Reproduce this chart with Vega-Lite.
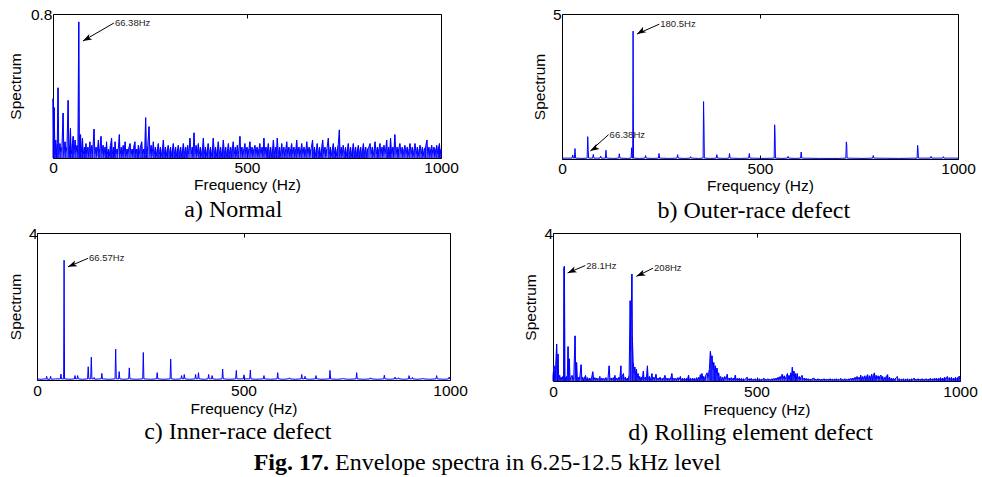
{
"$schema": "https://vega.github.io/schema/vega-lite/v6.json",
"padding": {"left": 7, "top": 6, "right": 0, "bottom": 0},
"background": "white",
"columns": 1,
"align": "none",
"spacing": 2,
"config": {
  "view": {"stroke": "#000", "strokeWidth": 1},
  "axis": {"labelFont": "Liberation Sans", "titleFont": "Liberation Sans", "labelFontSize": 15.5, "titleFontSize": 15.5, "labelColor": "#000", "titleColor": "#000", "titleFontWeight": "normal", "grid": false, "domain": false, "tickColor": "#000", "tickSize": -4, "labelFlush": false, "labelOverlap": false},
  "title": {"font": "Liberation Serif", "fontSize": 24, "fontWeight": "normal", "color": "#000", "orient": "bottom", "anchor": "middle", "frame": "bounds"},
  "line": {"color": "#0000ff", "strokeWidth": 1},
  "rule": {"color": "#0000ff", "strokeWidth": 1}
},
"datasets": {
"a": [{"f":0,"v":0.33},{"f":2,"v":0.05},{"f":3,"v":0.28},{"f":5,"v":0.02},{"f":7,"v":0.1},{"f":9,"v":0.03},{"f":11,"v":0.08},{"f":13,"v":0.39},{"f":15,"v":0.02},{"f":18,"v":0.08},{"f":20,"v":0.03},{"f":23,"v":0.06},{"f":26,"v":0.25},{"f":28,"v":0.02},{"f":31,"v":0.09},{"f":33,"v":0.03},{"f":36,"v":0.06},{"f":39,"v":0.32},{"f":41,"v":0.02},{"f":43,"v":0.07},{"f":45,"v":0.165},{"f":47,"v":0.02},{"f":50,"v":0.08},{"f":52,"v":0.12},{"f":54,"v":0.02},{"f":57,"v":0.1},{"f":59,"v":0.03},{"f":62,"v":0.07},{"f":64,"v":0.02},{"f":66.38,"v":0.756},{"f":68,"v":0.13},{"f":70,"v":0.02},{"f":71,"v":0.13},{"f":73,"v":0.03},{"f":76,"v":0.11},{"f":78,"v":0.02},{"f":81,"v":0.06},{"f":83,"v":0.02},{"f":85,"v":0.08},{"f":87,"v":0.02},{"f":90,"v":0.06},{"f":92,"v":0.01},{"f":95,"v":0.09},{"f":97,"v":0.02},{"f":100,"v":0.07},{"f":102,"v":0.02},{"f":105.7,"v":0.16},{"f":108,"v":0.02},{"f":111,"v":0.06},{"f":113,"v":0.01},{"f":117,"v":0.1},{"f":119,"v":0.03},{"f":121,"v":0.05},{"f":123.7,"v":0.12},{"f":126,"v":0.02},{"f":129,"v":0.07},{"f":131,"v":0.01},{"f":134,"v":0.06},{"f":136,"v":0.02},{"f":138,"v":0.09},{"f":140,"v":0.02},{"f":143,"v":0.05},{"f":145,"v":0.01},{"f":148,"v":0.07},{"f":151,"v":0.11},{"f":153,"v":0.02},{"f":156,"v":0.06},{"f":158,"v":0.01},{"f":160,"v":0.09},{"f":162,"v":0.02},{"f":165,"v":0.05},{"f":167,"v":0.02},{"f":171,"v":0.13},{"f":173,"v":0.02},{"f":176,"v":0.06},{"f":178,"v":0.01},{"f":181,"v":0.07},{"f":183,"v":0.02},{"f":186,"v":0.09},{"f":188,"v":0.01},{"f":191,"v":0.05},{"f":193,"v":0.02},{"f":196,"v":0.06},{"f":198.5,"v":0.08},{"f":201,"v":0.02},{"f":204,"v":0.05},{"f":206,"v":0.01},{"f":209,"v":0.07},{"f":211,"v":0.09},{"f":213,"v":0.02},{"f":216,"v":0.05},{"f":218,"v":0.01},{"f":220,"v":0.07},{"f":222,"v":0.02},{"f":225,"v":0.06},{"f":228.6,"v":0.09},{"f":231,"v":0.02},{"f":234,"v":0.05},{"f":236,"v":0.02},{"f":238.8,"v":0.224},{"f":241,"v":0.02},{"f":244,"v":0.06},{"f":247.4,"v":0.174},{"f":250,"v":0.02},{"f":253,"v":0.07},{"f":255,"v":0.01},{"f":258.6,"v":0.09},{"f":261,"v":0.02},{"f":264,"v":0.06},{"f":266,"v":0.01},{"f":269,"v":0.05},{"f":271.5,"v":0.08},{"f":274,"v":0.02},{"f":277,"v":0.06},{"f":279,"v":0.01},{"f":282,"v":0.05},{"f":284.4,"v":0.1},{"f":287,"v":0.02},{"f":290,"v":0.06},{"f":292,"v":0.01},{"f":295,"v":0.05},{"f":297,"v":0.07},{"f":300,"v":0.02},{"f":303,"v":0.06},{"f":305,"v":0.01},{"f":308,"v":0.05},{"f":310,"v":0.08},{"f":313,"v":0.02},{"f":316,"v":0.06},{"f":318,"v":0.01},{"f":321,"v":0.05},{"f":323,"v":0.07},{"f":326,"v":0.02},{"f":329,"v":0.06},{"f":331,"v":0.01},{"f":334,"v":0.05},{"f":336,"v":0.08},{"f":339,"v":0.02},{"f":342,"v":0.06},{"f":344,"v":0.01},{"f":347,"v":0.07},{"f":350,"v":0.02},{"f":353,"v":0.11},{"f":356,"v":0.02},{"f":359,"v":0.06},{"f":361,"v":0.01},{"f":363.4,"v":0.14},{"f":366,"v":0.02},{"f":369,"v":0.07},{"f":371,"v":0.01},{"f":374.6,"v":0.08},{"f":377,"v":0.02},{"f":380,"v":0.06},{"f":382,"v":0.01},{"f":385,"v":0.05},{"f":387.5,"v":0.11},{"f":390,"v":0.02},{"f":393,"v":0.06},{"f":395,"v":0.01},{"f":398,"v":0.05},{"f":400,"v":0.08},{"f":403,"v":0.02},{"f":406,"v":0.06},{"f":408,"v":0.01},{"f":411,"v":0.05},{"f":413,"v":0.11},{"f":416,"v":0.02},{"f":419,"v":0.06},{"f":421,"v":0.01},{"f":424,"v":0.05},{"f":426,"v":0.09},{"f":429,"v":0.02},{"f":432,"v":0.06},{"f":434,"v":0.01},{"f":437,"v":0.05},{"f":439,"v":0.1},{"f":442,"v":0.02},{"f":445,"v":0.06},{"f":447,"v":0.01},{"f":450,"v":0.05},{"f":452,"v":0.08},{"f":455,"v":0.02},{"f":458,"v":0.06},{"f":460,"v":0.01},{"f":462,"v":0.05},{"f":464.6,"v":0.09},{"f":467,"v":0.02},{"f":470,"v":0.06},{"f":472,"v":0.01},{"f":475,"v":0.07},{"f":478,"v":0.02},{"f":481.8,"v":0.12},{"f":484,"v":0.02},{"f":487,"v":0.06},{"f":489,"v":0.01},{"f":492,"v":0.05},{"f":494.6,"v":0.08},{"f":497,"v":0.02},{"f":500,"v":0.06},{"f":502,"v":0.01},{"f":505,"v":0.05},{"f":507.5,"v":0.09},{"f":510,"v":0.02},{"f":513,"v":0.06},{"f":515,"v":0.01},{"f":518,"v":0.05},{"f":520.5,"v":0.07},{"f":523,"v":0.02},{"f":526,"v":0.06},{"f":528,"v":0.01},{"f":531,"v":0.05},{"f":533,"v":0.08},{"f":536,"v":0.02},{"f":539,"v":0.06},{"f":541,"v":0.01},{"f":543.6,"v":0.11},{"f":546,"v":0.02},{"f":549,"v":0.06},{"f":551,"v":0.01},{"f":553,"v":0.05},{"f":555,"v":0.08},{"f":558,"v":0.02},{"f":561,"v":0.06},{"f":563,"v":0.01},{"f":566,"v":0.05},{"f":568,"v":0.1},{"f":571,"v":0.02},{"f":574,"v":0.06},{"f":576,"v":0.02},{"f":578,"v":0.11},{"f":581,"v":0.02},{"f":584,"v":0.06},{"f":586,"v":0.01},{"f":589.5,"v":0.08},{"f":592,"v":0.02},{"f":595,"v":0.06},{"f":597,"v":0.01},{"f":600,"v":0.05},{"f":602.4,"v":0.09},{"f":605,"v":0.02},{"f":608,"v":0.06},{"f":610,"v":0.01},{"f":613,"v":0.05},{"f":615,"v":0.08},{"f":618,"v":0.02},{"f":621,"v":0.06},{"f":623,"v":0.01},{"f":626,"v":0.05},{"f":628,"v":0.1},{"f":631,"v":0.02},{"f":634,"v":0.06},{"f":636,"v":0.01},{"f":639,"v":0.05},{"f":641,"v":0.08},{"f":644,"v":0.02},{"f":647,"v":0.06},{"f":649,"v":0.01},{"f":652,"v":0.05},{"f":654,"v":0.09},{"f":657,"v":0.02},{"f":660,"v":0.06},{"f":662,"v":0.01},{"f":665,"v":0.05},{"f":669,"v":0.1},{"f":671,"v":0.02},{"f":674,"v":0.06},{"f":676,"v":0.01},{"f":679,"v":0.05},{"f":681,"v":0.08},{"f":684,"v":0.02},{"f":687,"v":0.06},{"f":689,"v":0.01},{"f":692,"v":0.05},{"f":695,"v":0.1},{"f":698,"v":0.02},{"f":701,"v":0.06},{"f":703,"v":0.01},{"f":706,"v":0.05},{"f":709.6,"v":0.11},{"f":712,"v":0.02},{"f":715,"v":0.06},{"f":717,"v":0.01},{"f":720,"v":0.05},{"f":722.5,"v":0.08},{"f":725,"v":0.02},{"f":728,"v":0.06},{"f":730,"v":0.01},{"f":733,"v":0.05},{"f":735,"v":0.07},{"f":738,"v":0.156},{"f":740,"v":0.02},{"f":743,"v":0.06},{"f":745,"v":0.01},{"f":748,"v":0.07},{"f":751,"v":0.02},{"f":754,"v":0.06},{"f":756,"v":0.01},{"f":759,"v":0.05},{"f":761,"v":0.08},{"f":764,"v":0.02},{"f":767,"v":0.06},{"f":769,"v":0.01},{"f":772,"v":0.05},{"f":774,"v":0.08},{"f":777,"v":0.02},{"f":780,"v":0.06},{"f":782,"v":0.01},{"f":785,"v":0.05},{"f":787,"v":0.07},{"f":790,"v":0.02},{"f":793,"v":0.06},{"f":795,"v":0.01},{"f":798,"v":0.05},{"f":800,"v":0.08},{"f":803,"v":0.02},{"f":806,"v":0.06},{"f":808,"v":0.01},{"f":811,"v":0.05},{"f":814,"v":0.06},{"f":817,"v":0.08},{"f":820,"v":0.02},{"f":823,"v":0.06},{"f":825,"v":0.01},{"f":828,"v":0.05},{"f":830,"v":0.09},{"f":833,"v":0.02},{"f":836,"v":0.06},{"f":838,"v":0.01},{"f":840,"v":0.05},{"f":842.6,"v":0.08},{"f":845,"v":0.02},{"f":848,"v":0.06},{"f":850,"v":0.01},{"f":853,"v":0.07},{"f":856,"v":0.02},{"f":860,"v":0.1},{"f":862,"v":0.02},{"f":865,"v":0.06},{"f":867,"v":0.01},{"f":870,"v":0.11},{"f":873,"v":0.02},{"f":876,"v":0.06},{"f":878,"v":0.01},{"f":881,"v":0.13},{"f":884,"v":0.02},{"f":887,"v":0.06},{"f":889,"v":0.01},{"f":891,"v":0.05},{"f":894,"v":0.08},{"f":897,"v":0.02},{"f":900,"v":0.06},{"f":902,"v":0.01},{"f":905,"v":0.05},{"f":907,"v":0.07},{"f":910,"v":0.02},{"f":913,"v":0.06},{"f":915,"v":0.01},{"f":918,"v":0.05},{"f":920,"v":0.08},{"f":923,"v":0.02},{"f":926,"v":0.06},{"f":928,"v":0.01},{"f":931,"v":0.05},{"f":933,"v":0.08},{"f":936,"v":0.02},{"f":939,"v":0.06},{"f":941,"v":0.01},{"f":944,"v":0.05},{"f":946,"v":0.07},{"f":949,"v":0.02},{"f":952,"v":0.06},{"f":954,"v":0.01},{"f":957,"v":0.05},{"f":960,"v":0.06},{"f":963.6,"v":0.1},{"f":966,"v":0.02},{"f":969,"v":0.06},{"f":971,"v":0.01},{"f":974,"v":0.05},{"f":976,"v":0.07},{"f":979,"v":0.02},{"f":982,"v":0.06},{"f":984,"v":0.01},{"f":987,"v":0.05},{"f":989,"v":0.07},{"f":992,"v":0.02},{"f":994,"v":0.06},{"f":996,"v":0.08},{"f":998,"v":0.02},{"f":1000,"v":0.05}],
"b": [{"f":0,"v":0.03},{"f":15,"v":0.03},{"f":25.5,"v":0.03},{"f":27,"v":0.14},{"f":28.5,"v":0.03},{"f":31.3,"v":0.03},{"f":32.8,"v":0.36},{"f":34.3,"v":0.03},{"f":50,"v":0.02},{"f":63.5,"v":0.03},{"f":65,"v":0.77},{"f":66.2,"v":0.3},{"f":67.3,"v":0.03},{"f":77.5,"v":0.03},{"f":79,"v":0.16},{"f":80.5,"v":0.03},{"f":96,"v":0.03},{"f":97.6,"v":0.1},{"f":99,"v":0.03},{"f":109.5,"v":0.03},{"f":111,"v":0.3},{"f":112.5,"v":0.03},{"f":130,"v":0.02},{"f":143.3,"v":0.03},{"f":144.8,"v":0.18},{"f":146.3,"v":0.03},{"f":165,"v":0.02},{"f":174.5,"v":0.03},{"f":176,"v":0.39},{"f":177.3,"v":0.03},{"f":178.5,"v":0.03},{"f":179.5,"v":4.41},{"f":180.7,"v":0.03},{"f":195,"v":0.02},{"f":209.5,"v":0.03},{"f":211,"v":0.12},{"f":212.5,"v":0.03},{"f":230,"v":0.02},{"f":243.5,"v":0.03},{"f":245,"v":0.19},{"f":246.5,"v":0.03},{"f":270,"v":0.02},{"f":290.5,"v":0.03},{"f":292,"v":0.15},{"f":293.5,"v":0.03},{"f":310,"v":0.02},{"f":323.5,"v":0.03},{"f":325,"v":0.08},{"f":326.5,"v":0.03},{"f":345,"v":0.02},{"f":356.3,"v":0.03},{"f":357.5,"v":1.98},{"f":358.5,"v":1.2},{"f":359.5,"v":0.03},{"f":375,"v":0.02},{"f":389.5,"v":0.03},{"f":391,"v":0.15},{"f":392.5,"v":0.03},{"f":410,"v":0.02},{"f":421.5,"v":0.03},{"f":423,"v":0.19},{"f":424.5,"v":0.03},{"f":450,"v":0.02},{"f":471.5,"v":0.03},{"f":473,"v":0.19},{"f":474.5,"v":0.03},{"f":510,"v":0.02},{"f":535.8,"v":0.03},{"f":537,"v":1.18},{"f":538,"v":0.85},{"f":539,"v":0.03},{"f":555,"v":0.02},{"f":569.5,"v":0.03},{"f":571,"v":0.09},{"f":572.5,"v":0.03},{"f":590,"v":0.02},{"f":602.5,"v":0.03},{"f":604,"v":0.24},{"f":605.5,"v":0.03},{"f":650,"v":0.02},{"f":700,"v":0.02},{"f":716.8,"v":0.03},{"f":718,"v":0.59},{"f":719,"v":0.5},{"f":720,"v":0.03},{"f":760,"v":0.02},{"f":784.5,"v":0.03},{"f":786,"v":0.12},{"f":787.5,"v":0.03},{"f":850,"v":0.02},{"f":896.8,"v":0.03},{"f":898,"v":0.47},{"f":899,"v":0.35},{"f":900,"v":0.03},{"f":930.5,"v":0.03},{"f":932,"v":0.09},{"f":933.5,"v":0.03},{"f":961.5,"v":0.03},{"f":963,"v":0.08},{"f":964.5,"v":0.03},{"f":1000,"v":0.03}],
"c": [{"f":0,"v":0.03},{"f":10,"v":0.02},{"f":20,"v":0.03},{"f":22,"v":0.02},{"f":23.4,"v":0.1},{"f":25,"v":0.02},{"f":31.5,"v":0.02},{"f":33,"v":0.1},{"f":34.5,"v":0.02},{"f":45,"v":0.03},{"f":56.5,"v":0.03},{"f":58,"v":0.16},{"f":59.5,"v":0.03},{"f":64.5,"v":0.03},{"f":65.6,"v":3.26},{"f":66.7,"v":0.03},{"f":80,"v":0.02},{"f":90.5,"v":0.03},{"f":92,"v":0.12},{"f":93.5,"v":0.03},{"f":97,"v":0.03},{"f":98.5,"v":0.12},{"f":100,"v":0.03},{"f":110,"v":0.02},{"f":122.5,"v":0.03},{"f":124,"v":0.36},{"f":125.5,"v":0.03},{"f":130,"v":0.03},{"f":131.5,"v":0.62},{"f":133,"v":0.03},{"f":137,"v":0.03},{"f":138.5,"v":0.07},{"f":140,"v":0.02},{"f":150,"v":0.03},{"f":155.5,"v":0.03},{"f":157,"v":0.18},{"f":158.5,"v":0.03},{"f":175,"v":0.02},{"f":189,"v":0.03},{"f":190.5,"v":0.84},{"f":192,"v":0.03},{"f":197.5,"v":0.03},{"f":199,"v":0.23},{"f":200.5,"v":0.03},{"f":210,"v":0.02},{"f":222,"v":0.03},{"f":223.5,"v":0.33},{"f":225,"v":0.03},{"f":240,"v":0.02},{"f":256,"v":0.03},{"f":257.4,"v":0.75},{"f":258.8,"v":0.03},{"f":275,"v":0.02},{"f":289.5,"v":0.03},{"f":291,"v":0.2},{"f":292.5,"v":0.03},{"f":305,"v":0.02},{"f":322.2,"v":0.03},{"f":323.7,"v":0.57},{"f":325.2,"v":0.03},{"f":335,"v":0.02},{"f":348.5,"v":0.03},{"f":350,"v":0.12},{"f":351.5,"v":0.03},{"f":355,"v":0.03},{"f":356.5,"v":0.15},{"f":358,"v":0.03},{"f":370,"v":0.02},{"f":382.5,"v":0.03},{"f":384,"v":0.15},{"f":385.5,"v":0.03},{"f":389.5,"v":0.03},{"f":391,"v":0.2},{"f":392.5,"v":0.03},{"f":405,"v":0.02},{"f":414,"v":0.03},{"f":415.6,"v":0.15},{"f":417,"v":0.03},{"f":422.5,"v":0.03},{"f":424,"v":0.12},{"f":425.5,"v":0.03},{"f":435,"v":0.02},{"f":448,"v":0.03},{"f":449.5,"v":0.3},{"f":451,"v":0.03},{"f":465,"v":0.02},{"f":481,"v":0.03},{"f":482.6,"v":0.26},{"f":484,"v":0.03},{"f":499.5,"v":0.03},{"f":501,"v":0.14},{"f":502.5,"v":0.03},{"f":515,"v":0.03},{"f":516.5,"v":0.27},{"f":518,"v":0.03},{"f":530,"v":0.02},{"f":548,"v":0.03},{"f":549.6,"v":0.12},{"f":551,"v":0.03},{"f":565,"v":0.02},{"f":581.3,"v":0.03},{"f":582.8,"v":0.2},{"f":584.3,"v":0.03},{"f":595,"v":0.02},{"f":609.5,"v":0.03},{"f":611,"v":0.06},{"f":612.5,"v":0.03},{"f":625,"v":0.02},{"f":639.5,"v":0.03},{"f":641,"v":0.15},{"f":642.5,"v":0.03},{"f":647.5,"v":0.03},{"f":649,"v":0.1},{"f":650.5,"v":0.03},{"f":660,"v":0.02},{"f":674,"v":0.03},{"f":675.5,"v":0.12},{"f":677,"v":0.03},{"f":690,"v":0.02},{"f":708,"v":0.03},{"f":709.4,"v":0.26},{"f":711,"v":0.03},{"f":725,"v":0.02},{"f":739.5,"v":0.03},{"f":741,"v":0.05},{"f":742.5,"v":0.03},{"f":755,"v":0.02},{"f":772.5,"v":0.03},{"f":774,"v":0.2},{"f":775.5,"v":0.03},{"f":790,"v":0.02},{"f":806.5,"v":0.03},{"f":808,"v":0.06},{"f":809.5,"v":0.03},{"f":825,"v":0.02},{"f":839.5,"v":0.03},{"f":841,"v":0.13},{"f":842.5,"v":0.03},{"f":855,"v":0.02},{"f":865.5,"v":0.03},{"f":867,"v":0.08},{"f":868.5,"v":0.03},{"f":873.5,"v":0.03},{"f":875,"v":0.06},{"f":876.5,"v":0.03},{"f":890,"v":0.02},{"f":899.5,"v":0.03},{"f":901,"v":0.12},{"f":902.5,"v":0.03},{"f":907.5,"v":0.03},{"f":909,"v":0.07},{"f":910.5,"v":0.03},{"f":920,"v":0.02},{"f":932.5,"v":0.03},{"f":934,"v":0.05},{"f":935.5,"v":0.03},{"f":950,"v":0.02},{"f":966,"v":0.03},{"f":967.7,"v":0.12},{"f":969,"v":0.03},{"f":985,"v":0.02},{"f":996.5,"v":0.03},{"f":998,"v":0.08},{"f":999.5,"v":0.03},{"f":1000,"v":0.03}],
"d": [{"f":0,"v":0.15},{"f":2.5,"v":0.41},{"f":4,"v":0.05},{"f":6,"v":0.3},{"f":9,"v":1.0},{"f":11,"v":0.2},{"f":12.3,"v":0.73},{"f":14,"v":0.08},{"f":16.4,"v":0.15},{"f":18,"v":0.03},{"f":20,"v":0.1},{"f":22,"v":0.04},{"f":24,"v":0.12},{"f":26,"v":0.1},{"f":27,"v":3.07},{"f":28,"v":3.1},{"f":29.5,"v":0.1},{"f":31,"v":0.05},{"f":33,"v":0.12},{"f":35,"v":0.04},{"f":37,"v":0.93},{"f":38.5,"v":0.1},{"f":40,"v":0.6},{"f":42,"v":0.04},{"f":44,"v":0.1},{"f":47,"v":0.15},{"f":49,"v":0.03},{"f":51,"v":0.1},{"f":54.2,"v":1.22},{"f":56,"v":0.06},{"f":58,"v":0.5},{"f":60,"v":0.04},{"f":62,"v":0.1},{"f":64,"v":0.03},{"f":66,"v":0.12},{"f":69,"v":0.44},{"f":71,"v":0.04},{"f":73,"v":0.1},{"f":75,"v":0.03},{"f":77,"v":0.08},{"f":80,"v":0.15},{"f":82,"v":0.03},{"f":85,"v":0.09},{"f":87,"v":0.02},{"f":90,"v":0.08},{"f":92,"v":0.03},{"f":95,"v":0.1},{"f":97.7,"v":0.25},{"f":100,"v":0.03},{"f":103,"v":0.09},{"f":105,"v":0.02},{"f":108,"v":0.08},{"f":110,"v":0.03},{"f":113,"v":0.06},{"f":115,"v":0.12},{"f":117,"v":0.02},{"f":120,"v":0.08},{"f":122,"v":0.03},{"f":125,"v":0.07},{"f":127,"v":0.02},{"f":130,"v":0.09},{"f":132,"v":0.03},{"f":135,"v":0.07},{"f":138,"v":0.41},{"f":140,"v":0.03},{"f":143,"v":0.08},{"f":145,"v":0.02},{"f":148,"v":0.09},{"f":150,"v":0.03},{"f":152,"v":0.15},{"f":154,"v":0.03},{"f":157,"v":0.08},{"f":159,"v":0.02},{"f":162,"v":0.1},{"f":164,"v":0.03},{"f":166.7,"v":0.41},{"f":168,"v":0.05},{"f":170,"v":0.12},{"f":173,"v":0.2},{"f":175,"v":0.04},{"f":178,"v":0.1},{"f":180,"v":0.03},{"f":183,"v":0.08},{"f":185,"v":0.03},{"f":187,"v":0.15},{"f":189.7,"v":2.17},{"f":191,"v":0.8},{"f":193.8,"v":2.89},{"f":195,"v":1.2},{"f":197,"v":0.5},{"f":199,"v":0.2},{"f":201,"v":0.38},{"f":203,"v":0.15},{"f":205,"v":0.32},{"f":207,"v":0.1},{"f":209,"v":0.2},{"f":211,"v":0.05},{"f":213,"v":0.12},{"f":215,"v":0.04},{"f":217,"v":0.1},{"f":219,"v":0.03},{"f":222,"v":0.27},{"f":224,"v":0.04},{"f":227,"v":0.1},{"f":229,"v":0.03},{"f":232,"v":0.41},{"f":234,"v":0.04},{"f":237,"v":0.12},{"f":239,"v":0.03},{"f":241,"v":0.08},{"f":243,"v":0.2},{"f":245,"v":0.03},{"f":248,"v":0.1},{"f":250,"v":0.03},{"f":253,"v":0.18},{"f":255,"v":0.03},{"f":258,"v":0.08},{"f":260,"v":0.02},{"f":263,"v":0.1},{"f":265,"v":0.03},{"f":268,"v":0.07},{"f":270,"v":0.02},{"f":273,"v":0.09},{"f":275,"v":0.15},{"f":277,"v":0.03},{"f":280,"v":0.08},{"f":282,"v":0.02},{"f":285,"v":0.07},{"f":287,"v":0.03},{"f":290,"v":0.1},{"f":292,"v":0.2},{"f":294,"v":0.03},{"f":297,"v":0.08},{"f":299,"v":0.02},{"f":302,"v":0.07},{"f":304,"v":0.03},{"f":307,"v":0.09},{"f":309,"v":0.02},{"f":313,"v":0.12},{"f":315,"v":0.03},{"f":318,"v":0.07},{"f":320,"v":0.02},{"f":323,"v":0.08},{"f":325,"v":0.03},{"f":328,"v":0.07},{"f":330,"v":0.02},{"f":333,"v":0.16},{"f":335,"v":0.03},{"f":338,"v":0.07},{"f":340,"v":0.02},{"f":343,"v":0.08},{"f":345,"v":0.03},{"f":348,"v":0.07},{"f":350,"v":0.02},{"f":353,"v":0.09},{"f":355,"v":0.03},{"f":358,"v":0.1},{"f":360,"v":0.04},{"f":362,"v":0.17},{"f":364,"v":0.05},{"f":366,"v":0.2},{"f":368,"v":0.05},{"f":370,"v":0.12},{"f":372,"v":0.05},{"f":375,"v":0.15},{"f":378.5,"v":0.22},{"f":381,"v":0.08},{"f":384,"v":0.3},{"f":386.7,"v":0.8},{"f":389,"v":0.6},{"f":390.8,"v":0.68},{"f":393,"v":0.3},{"f":395,"v":0.5},{"f":397,"v":0.25},{"f":399,"v":0.41},{"f":401,"v":0.2},{"f":403,"v":0.35},{"f":405,"v":0.12},{"f":407,"v":0.22},{"f":409,"v":0.06},{"f":412,"v":0.12},{"f":414,"v":0.04},{"f":417,"v":0.1},{"f":419,"v":0.03},{"f":422,"v":0.12},{"f":425,"v":0.04},{"f":428,"v":0.18},{"f":430,"v":0.03},{"f":433,"v":0.08},{"f":435,"v":0.02},{"f":438,"v":0.09},{"f":440,"v":0.03},{"f":443,"v":0.08},{"f":445,"v":0.02},{"f":448,"v":0.16},{"f":450,"v":0.03},{"f":453,"v":0.07},{"f":455,"v":0.02},{"f":458,"v":0.08},{"f":460,"v":0.02},{"f":463,"v":0.07},{"f":465,"v":0.03},{"f":468,"v":0.06},{"f":470,"v":0.02},{"f":474,"v":0.07},{"f":477,"v":0.1},{"f":479,"v":0.02},{"f":482,"v":0.06},{"f":484,"v":0.02},{"f":487,"v":0.07},{"f":489,"v":0.02},{"f":492,"v":0.05},{"f":494,"v":0.02},{"f":497,"v":0.06},{"f":499,"v":0.02},{"f":502,"v":0.05},{"f":504,"v":0.02},{"f":507,"v":0.06},{"f":509,"v":0.02},{"f":512,"v":0.05},{"f":514,"v":0.02},{"f":518,"v":0.08},{"f":520,"v":0.02},{"f":523,"v":0.05},{"f":525,"v":0.02},{"f":528,"v":0.06},{"f":530,"v":0.02},{"f":533,"v":0.05},{"f":535,"v":0.02},{"f":538,"v":0.06},{"f":540,"v":0.03},{"f":543,"v":0.07},{"f":545,"v":0.02},{"f":548,"v":0.08},{"f":550,"v":0.03},{"f":553,"v":0.1},{"f":555,"v":0.03},{"f":558,"v":0.12},{"f":560,"v":0.04},{"f":563,"v":0.18},{"f":565,"v":0.05},{"f":568,"v":0.14},{"f":570,"v":0.04},{"f":573,"v":0.12},{"f":576,"v":0.2},{"f":578,"v":0.06},{"f":580,"v":0.15},{"f":582,"v":0.05},{"f":584,"v":0.22},{"f":586,"v":0.1},{"f":588,"v":0.37},{"f":590,"v":0.12},{"f":592,"v":0.27},{"f":594,"v":0.08},{"f":596,"v":0.2},{"f":598,"v":0.05},{"f":600,"v":0.2},{"f":602,"v":0.04},{"f":605,"v":0.12},{"f":607,"v":0.03},{"f":609,"v":0.1},{"f":612,"v":0.15},{"f":614,"v":0.03},{"f":617,"v":0.08},{"f":619,"v":0.02},{"f":622,"v":0.07},{"f":624,"v":0.02},{"f":627,"v":0.06},{"f":629,"v":0.02},{"f":632,"v":0.05},{"f":634,"v":0.02},{"f":637,"v":0.06},{"f":641,"v":0.08},{"f":643,"v":0.02},{"f":646,"v":0.05},{"f":648,"v":0.02},{"f":651,"v":0.06},{"f":653,"v":0.02},{"f":656,"v":0.05},{"f":658,"v":0.02},{"f":661,"v":0.05},{"f":663,"v":0.02},{"f":666,"v":0.06},{"f":668,"v":0.02},{"f":671,"v":0.05},{"f":673,"v":0.02},{"f":676,"v":0.05},{"f":678,"v":0.02},{"f":681,"v":0.06},{"f":683,"v":0.02},{"f":686,"v":0.05},{"f":688,"v":0.02},{"f":691,"v":0.05},{"f":693,"v":0.02},{"f":696,"v":0.06},{"f":698,"v":0.02},{"f":701,"v":0.05},{"f":703,"v":0.02},{"f":707,"v":0.07},{"f":709,"v":0.02},{"f":712,"v":0.05},{"f":714,"v":0.02},{"f":717,"v":0.06},{"f":719,"v":0.02},{"f":722,"v":0.05},{"f":724,"v":0.02},{"f":727,"v":0.06},{"f":729,"v":0.03},{"f":732,"v":0.07},{"f":734,"v":0.02},{"f":737,"v":0.08},{"f":739,"v":0.03},{"f":742,"v":0.1},{"f":744,"v":0.03},{"f":747,"v":0.12},{"f":749,"v":0.04},{"f":752,"v":0.1},{"f":754,"v":0.04},{"f":756,"v":0.16},{"f":758,"v":0.05},{"f":761,"v":0.12},{"f":763,"v":0.05},{"f":766,"v":0.14},{"f":768,"v":0.05},{"f":770,"v":0.12},{"f":773,"v":0.17},{"f":775,"v":0.05},{"f":778,"v":0.14},{"f":780,"v":0.06},{"f":783,"v":0.18},{"f":785,"v":0.06},{"f":787,"v":0.15},{"f":789.6,"v":0.22},{"f":792,"v":0.06},{"f":794,"v":0.15},{"f":796,"v":0.05},{"f":799,"v":0.14},{"f":801,"v":0.05},{"f":803,"v":0.12},{"f":805.7,"v":0.16},{"f":808,"v":0.04},{"f":810,"v":0.12},{"f":812,"v":0.04},{"f":815,"v":0.1},{"f":817,"v":0.04},{"f":819,"v":0.13},{"f":822,"v":0.17},{"f":824,"v":0.04},{"f":827,"v":0.1},{"f":829,"v":0.03},{"f":832,"v":0.08},{"f":834,"v":0.03},{"f":837,"v":0.07},{"f":839,"v":0.02},{"f":842,"v":0.08},{"f":846,"v":0.12},{"f":848,"v":0.02},{"f":851,"v":0.06},{"f":853,"v":0.02},{"f":856,"v":0.05},{"f":858,"v":0.02},{"f":861,"v":0.06},{"f":863,"v":0.02},{"f":866,"v":0.05},{"f":868,"v":0.02},{"f":871,"v":0.06},{"f":873,"v":0.02},{"f":876,"v":0.05},{"f":878,"v":0.02},{"f":881,"v":0.06},{"f":883,"v":0.02},{"f":887,"v":0.08},{"f":889,"v":0.02},{"f":892,"v":0.05},{"f":894,"v":0.02},{"f":897,"v":0.06},{"f":899,"v":0.02},{"f":902,"v":0.05},{"f":904,"v":0.02},{"f":907,"v":0.06},{"f":909,"v":0.02},{"f":912,"v":0.05},{"f":914,"v":0.02},{"f":917,"v":0.06},{"f":919,"v":0.02},{"f":922,"v":0.05},{"f":924,"v":0.02},{"f":927,"v":0.07},{"f":929,"v":0.02},{"f":932,"v":0.06},{"f":934,"v":0.03},{"f":937,"v":0.07},{"f":939,"v":0.03},{"f":942,"v":0.08},{"f":944,"v":0.03},{"f":947,"v":0.07},{"f":949,"v":0.03},{"f":952,"v":0.09},{"f":954,"v":0.03},{"f":957,"v":0.08},{"f":959,"v":0.03},{"f":962,"v":0.1},{"f":964,"v":0.04},{"f":966,"v":0.09},{"f":969,"v":0.12},{"f":971,"v":0.04},{"f":974,"v":0.09},{"f":976,"v":0.03},{"f":979,"v":0.1},{"f":981,"v":0.04},{"f":984,"v":0.08},{"f":986,"v":0.03},{"f":989,"v":0.1},{"f":991,"v":0.04},{"f":994,"v":0.09},{"f":996,"v":0.04},{"f":998,"v":0.13},{"f":1000,"v":0.05}],
"anno_a": [{"label":"66.38Hz","hx":77,"hy":0.65,"tx":157,"ty":0.75}],
"anno_b": [{"label":"180.5Hz","hx":189.4,"hy":4.31,"tx":245.7,"ty":4.65},{"label":"66.38Hz","hx":71.5,"hy":0.28,"tx":117.7,"ty":0.84}],
"anno_c": [{"label":"66.57Hz","hx":75.1,"hy":3.08,"tx":123.6,"ty":3.31}],
"anno_d": [{"label":"28.1Hz","hx":35.9,"hy":2.92,"tx":79.4,"ty":3.12},{"label":"208Hz","hx":204.9,"hy":2.83,"tx":245.9,"ty":3.05}],
"blank": [{"k":1}]
},
"concat": [
 {"spacing": -34, "hconcat": [
  {"width": 1, "height": 1, "view": {"stroke": null}, "data": {"name": "blank"}, "mark": {"type": "point", "opacity": 0}},
  {"spacing": 72, "hconcat": [
  {"width": 388, "height": 144, "title": {"text": "a) Normal", "offset": 5},
   "resolve": {"axis": {"x": "independent", "y": "independent"}},
   "layer": [
    {"data": {"name": "a"}, "mark": {"type": "rule"},
     "encoding": {
      "x": {"field": "f", "type": "quantitative", "scale": {"domain": [0, 1000], "nice": false}, "axis": {"values": [0, 500, 1000], "format": "d", "title": "Frequency (Hz)", "labelPadding": 6, "titlePadding": 1.5}},
      "y": {"field": "v", "type": "quantitative", "scale": {"domain": [0, 0.8], "nice": false}, "axis": {"values": [0.8], "format": ".1f", "title": "Spectrum", "labelPadding": 5, "titlePadding": 7}},
      "y2": {"datum": 0}}},
    {"data": {"name": "a"}, "mark": {"type": "line"},
     "encoding": {
      "x": {"field": "f", "type": "quantitative", "axis": null},
      "y": {"field": "v", "type": "quantitative", "axis": null}}},
    {"data": {"name": "anno_a"}, "mark": {"type": "rule", "color": "#000", "strokeWidth": 1},
     "encoding": {
      "x": {"field": "hx", "type": "quantitative", "scale": {"domain": [0, 1000], "nice": false}, "axis": {"orient": "top", "values": [500], "labels": false, "title": null}},
      "y": {"field": "hy", "type": "quantitative", "scale": {"domain": [0, 0.8], "nice": false}, "axis": {"orient": "right", "values": [0.8], "labels": false, "title": null}},
      "x2": {"field": "tx"}, "y2": {"field": "ty"}}},
    {"data": {"name": "anno_a"}, "mark": {"type": "point", "shape": "M0,0L2,-0.7L1.5,0L2,0.7Z", "filled": true, "color": "#000", "opacity": 1, "size": 80, "angle": 332, "strokeWidth": 0},
     "encoding": {"x": {"field": "hx", "type": "quantitative", "axis": null}, "y": {"field": "hy", "type": "quantitative", "axis": null}}},
    {"data": {"name": "anno_a"}, "mark": {"type": "text", "align": "left", "baseline": "middle", "font": "Liberation Sans", "fontSize": 9.5, "color": "#222", "dx": 1},
     "encoding": {"x": {"field": "tx", "type": "quantitative", "axis": null}, "y": {"field": "ty", "type": "quantitative", "axis": null}, "text": {"field": "label"}}}
   ]},
  {"width": 396, "height": 145, "title": {"text": "b) Outer-race defect", "offset": 5},
   "resolve": {"axis": {"x": "independent", "y": "independent"}},
   "layer": [
    {"data": {"name": "b"}, "mark": {"type": "line"},
     "encoding": {
      "x": {"field": "f", "type": "quantitative", "scale": {"domain": [0, 1000], "nice": false}, "axis": {"values": [0, 500, 1000], "format": "d", "title": "Frequency (Hz)", "labelPadding": 6, "titlePadding": 1.5}},
      "y": {"field": "v", "type": "quantitative", "scale": {"domain": [0, 5], "nice": false}, "axis": {"values": [5], "format": "d", "title": "Spectrum", "labelPadding": 5, "titlePadding": 5}}}},
    {"data": {"name": "anno_b"}, "mark": {"type": "rule", "color": "#000", "strokeWidth": 1},
     "encoding": {
      "x": {"field": "hx", "type": "quantitative", "scale": {"domain": [0, 1000], "nice": false}, "axis": {"orient": "top", "values": [500], "labels": false, "title": null}},
      "y": {"field": "hy", "type": "quantitative", "scale": {"domain": [0, 5], "nice": false}, "axis": {"orient": "right", "values": [5], "labels": false, "title": null}},
      "x2": {"field": "tx"}, "y2": {"field": "ty"}}},
    {"data": {"name": "anno_b"}, "mark": {"type": "point", "shape": "M0,0L2,-0.7L1.5,0L2,0.7Z", "filled": true, "color": "#000", "opacity": 1, "size": 80, "angle": 330, "strokeWidth": 0},
     "encoding": {"x": {"field": "hx", "type": "quantitative", "axis": null}, "y": {"field": "hy", "type": "quantitative", "axis": null}}},
    {"data": {"name": "anno_b"}, "mark": {"type": "text", "align": "left", "baseline": "middle", "font": "Liberation Sans", "fontSize": 9.5, "color": "#222", "dx": 1},
     "encoding": {"x": {"field": "tx", "type": "quantitative", "axis": null}, "y": {"field": "ty", "type": "quantitative", "axis": null}, "text": {"field": "label"}}}
   ]}
  ]}
 ]},
 {"spacing": 55, "hconcat": [
  {"width": 413, "height": 147, "title": {"text": "c) Inner-race defect", "offset": 3},
   "resolve": {"axis": {"x": "independent", "y": "independent"}},
   "layer": [
    {"data": {"name": "c"}, "mark": {"type": "line"},
     "encoding": {
      "x": {"field": "f", "type": "quantitative", "scale": {"domain": [0, 1000], "nice": false}, "axis": {"values": [0, 500, 1000], "format": "d", "title": "Frequency (Hz)", "labelPadding": 7.5, "titlePadding": 2}},
      "y": {"field": "v", "type": "quantitative", "scale": {"domain": [0, 4], "nice": false}, "axis": {"values": [4], "format": "d", "title": "Spectrum", "labelPadding": 4, "titlePadding": 5}}}},
    {"data": {"name": "anno_c"}, "mark": {"type": "rule", "color": "#000", "strokeWidth": 1},
     "encoding": {
      "x": {"field": "hx", "type": "quantitative", "scale": {"domain": [0, 1000], "nice": false}, "axis": {"orient": "top", "values": [500], "labels": false, "title": null}},
      "y": {"field": "hy", "type": "quantitative", "scale": {"domain": [0, 4], "nice": false}, "axis": {"orient": "right", "values": [4], "labels": false, "title": null}},
      "x2": {"field": "tx"}, "y2": {"field": "ty"}}},
    {"data": {"name": "anno_c"}, "mark": {"type": "point", "shape": "M0,0L2,-0.7L1.5,0L2,0.7Z", "filled": true, "color": "#000", "opacity": 1, "size": 80, "angle": 337, "strokeWidth": 0},
     "encoding": {"x": {"field": "hx", "type": "quantitative", "axis": null}, "y": {"field": "hy", "type": "quantitative", "axis": null}}},
    {"data": {"name": "anno_c"}, "mark": {"type": "text", "align": "left", "baseline": "middle", "font": "Liberation Sans", "fontSize": 9.5, "color": "#222", "dx": 1},
     "encoding": {"x": {"field": "tx", "type": "quantitative", "axis": null}, "y": {"field": "ty", "type": "quantitative", "axis": null}, "text": {"field": "label"}}}
   ]},
  {"width": 407, "height": 148, "title": {"text": "d) Rolling element defect", "offset": 3},
   "resolve": {"axis": {"x": "independent", "y": "independent"}},
   "layer": [
    {"data": {"name": "d"}, "mark": {"type": "rule"},
     "encoding": {
      "x": {"field": "f", "type": "quantitative", "scale": {"domain": [0, 1000], "nice": false}, "axis": {"values": [0, 500, 1000], "format": "d", "title": "Frequency (Hz)", "labelPadding": 7.5, "titlePadding": 2}},
      "y": {"field": "v", "type": "quantitative", "scale": {"domain": [0, 4], "nice": false}, "axis": {"values": [4], "format": "d", "title": "Spectrum", "labelPadding": 4.4, "titlePadding": 5}},
      "y2": {"datum": 0}}},
    {"data": {"name": "d"}, "mark": {"type": "line"},
     "encoding": {
      "x": {"field": "f", "type": "quantitative", "axis": null},
      "y": {"field": "v", "type": "quantitative", "axis": null}}},
    {"data": {"name": "anno_d"}, "mark": {"type": "rule", "color": "#000", "strokeWidth": 1},
     "encoding": {
      "x": {"field": "hx", "type": "quantitative", "scale": {"domain": [0, 1000], "nice": false}, "axis": {"orient": "top", "values": [500], "labels": false, "title": null}},
      "y": {"field": "hy", "type": "quantitative", "scale": {"domain": [0, 4], "nice": false}, "axis": {"orient": "right", "values": [4], "labels": false, "title": null}},
      "x2": {"field": "tx"}, "y2": {"field": "ty"}}},
    {"data": {"name": "anno_d"}, "mark": {"type": "point", "shape": "M0,0L2,-0.7L1.5,0L2,0.7Z", "filled": true, "color": "#000", "opacity": 1, "size": 80, "angle": 336, "strokeWidth": 0},
     "encoding": {"x": {"field": "hx", "type": "quantitative", "axis": null}, "y": {"field": "hy", "type": "quantitative", "axis": null}}},
    {"data": {"name": "anno_d"}, "mark": {"type": "text", "align": "left", "baseline": "middle", "font": "Liberation Sans", "fontSize": 9.5, "color": "#222", "dx": 1},
     "encoding": {"x": {"field": "tx", "type": "quantitative", "axis": null}, "y": {"field": "ty", "type": "quantitative", "axis": null}, "text": {"field": "label"}}}
   ]}
 ]},
 {"width": 902, "height": 32, "view": {"stroke": null},
  "data": {"values": [{"bold": "Fig. 17.", "rest": "Envelope spectra in 6.25-12.5 kHz level"}]},
  "layer": [
   {"mark": {"type": "text", "align": "right", "baseline": "middle", "font": "Liberation Serif", "fontSize": 24, "fontWeight": "bold", "color": "#000", "dx": -159}, "encoding": {"text": {"field": "bold"}}},
   {"mark": {"type": "text", "align": "left", "baseline": "middle", "font": "Liberation Serif", "fontSize": 24, "color": "#000", "dx": -153}, "encoding": {"text": {"field": "rest"}}}
  ]}
]
}
